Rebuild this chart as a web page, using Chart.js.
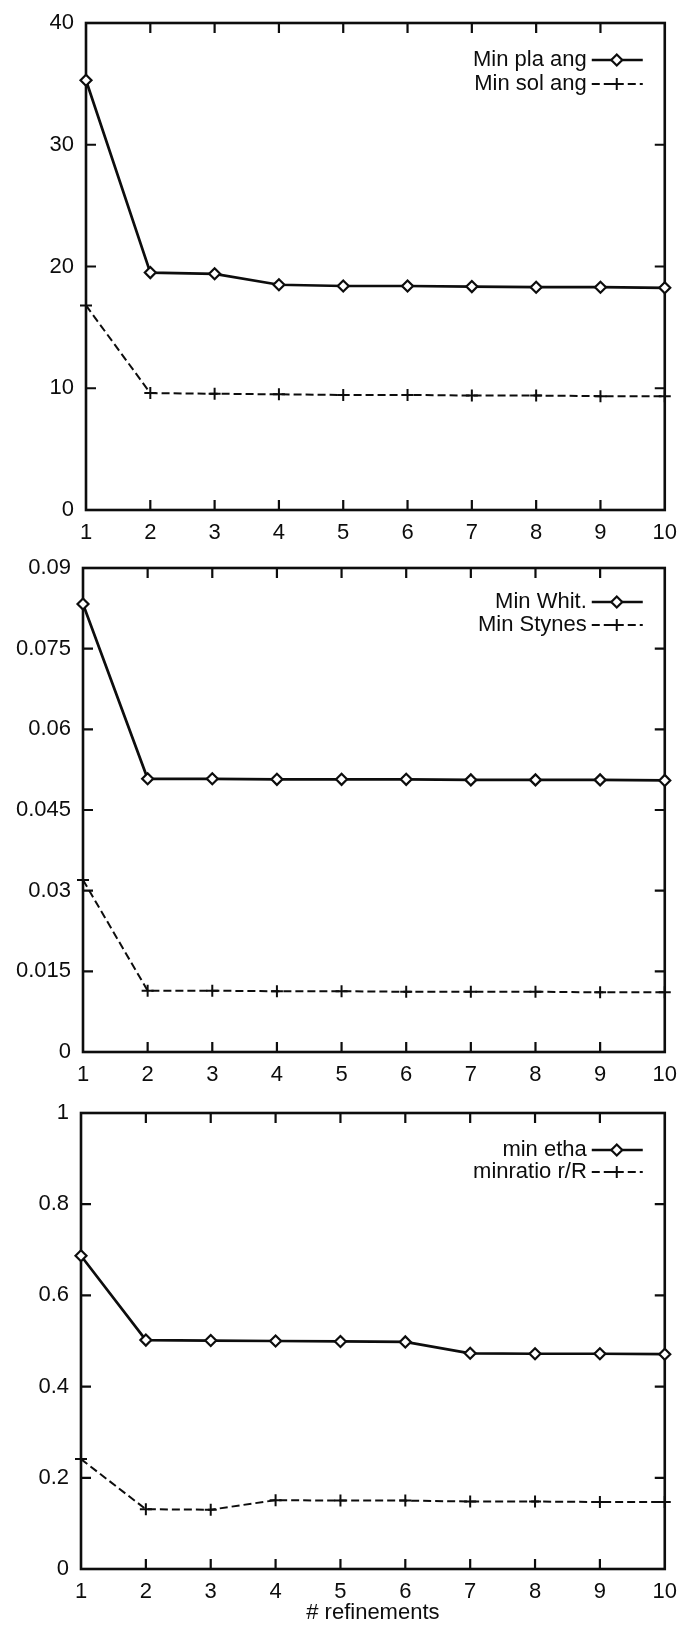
<!DOCTYPE html>
<html>
<head>
<meta charset="utf-8">
<script src="https://cdn.jsdelivr.net/npm/chart.js@4.4.1/dist/chart.umd.min.js"></script>
<style>
  html, body { margin: 0; padding: 0; background: #fff; }
  body { width: 689px; height: 1628px; position: relative; overflow: hidden; }
  canvas { position: absolute; left: 0; display: block; }
</style>
</head>
<body>
<canvas id="c1" width="689" height="545" style="top:0px;width:689px;height:545px"></canvas>
<canvas id="c2" width="689" height="545" style="top:545px;width:689px;height:545px"></canvas>
<canvas id="c3" width="689" height="538" style="top:1090px;width:689px;height:538px"></canvas>
<script>
// ---------- data ----------
const refinements = [1, 2, 3, 4, 5, 6, 7, 8, 9, 10];
const xTickLabels = ['1', '2', '3', '4', '5', '6', '7', '8', '9', '10'];
const xTitle = '# refinements';

const seriesNames1 = ['Min pla ang', 'Min sol ang'];
const minPlaAng = [35.3, 19.5, 19.4, 18.5, 18.4, 18.4, 18.35, 18.3, 18.3, 18.25];
const minSolAng = [16.8, 9.6, 9.55, 9.5, 9.45, 9.45, 9.4, 9.4, 9.35, 9.35];
const yTicks1 = [0, 10, 20, 30, 40];
const yLabels1 = ['0', '10', '20', '30', '40'];

const seriesNames2 = ['Min Whit.', 'Min Stynes'];
const minWhit = [0.0833, 0.0508, 0.0508, 0.0507, 0.0507, 0.0507, 0.0506, 0.0506, 0.0506, 0.0505];
const minStynes = [0.032, 0.0114, 0.0114, 0.0113, 0.0113, 0.0112, 0.0112, 0.0112, 0.0111, 0.0111];
const yTicks2 = [0, 0.015, 0.03, 0.045, 0.06, 0.075, 0.09];
const yLabels2 = ['0', '0.015', '0.03', '0.045', '0.06', '0.075', '0.09'];

const seriesNames3 = ['min etha', 'minratio r/R'];
const minEtha = [0.687, 0.502, 0.501, 0.5, 0.499, 0.498, 0.473, 0.472, 0.472, 0.471];
const minRatio = [0.241, 0.131, 0.13, 0.151, 0.15, 0.15, 0.148, 0.148, 0.147, 0.147];
const yTicks3 = [0, 0.2, 0.4, 0.6, 0.8, 1];
const yLabels3 = ['0', '0.2', '0.4', '0.6', '0.8', '1'];

// ---------- style ----------
const INK = '#0d0d0d';
const FONT_FAMILY = '"Liberation Sans", Arial, Helvetica, sans-serif';
Chart.defaults.font.family = FONT_FAMILY;
Chart.defaults.color = INK;

function drawMarker(ctx, style, x, y, r, bw) {
  ctx.save();
  ctx.setLineDash([]);
  ctx.lineWidth = bw;
  ctx.strokeStyle = INK;
  ctx.beginPath();
  if (style === 'rectRot') {
    ctx.moveTo(x - r, y); ctx.lineTo(x, y - r); ctx.lineTo(x + r, y); ctx.lineTo(x, y + r); ctx.closePath();
    ctx.fillStyle = '#fff'; ctx.fill();
  } else {
    ctx.moveTo(x - r, y); ctx.lineTo(x + r, y); ctx.moveTo(x, y - r); ctx.lineTo(x, y + r);
  }
  ctx.stroke();
  ctx.restore();
}

const gnuplotFrame = {
  id: 'gnuplotFrame',
  beforeDatasetsDraw(chart) {
    const { ctx, chartArea: a, scales: { x, y } } = chart;
    const L = 10;
    ctx.save();
    ctx.strokeStyle = INK;
    ctx.lineWidth = 2.6;
    ctx.strokeRect(a.left, a.top, a.right - a.left, a.bottom - a.top);
    ctx.lineWidth = 2.2;
    ctx.beginPath();
    x.ticks.forEach(t => {
      const px = x.getPixelForValue(t.value);
      if (px <= a.left + 1 || px >= a.right - 1) return;
      ctx.moveTo(px, a.bottom); ctx.lineTo(px, a.bottom - L);
      ctx.moveTo(px, a.top); ctx.lineTo(px, a.top + L);
    });
    y.ticks.forEach(t => {
      const py = y.getPixelForValue(t.value);
      if (py <= a.top + 1 || py >= a.bottom - 1) return;
      ctx.moveTo(a.left, py); ctx.lineTo(a.left + L, py);
      ctx.moveTo(a.right, py); ctx.lineTo(a.right - L, py);
    });
    ctx.stroke();
    ctx.restore();
  },
  afterDatasetsDraw(chart, args, opts) {
    const { ctx, chartArea: a } = chart;
    ctx.save();
    chart.data.datasets.forEach((ds, i) => {
      const cy = a.top + opts.top + i * opts.gap;
      ctx.font = '22px ' + FONT_FAMILY;
      ctx.fillStyle = INK;
      ctx.textAlign = 'right';
      ctx.textBaseline = 'middle';
      ctx.fillText(ds.label, a.right - 78, cy);
      ctx.strokeStyle = INK;
      ctx.lineWidth = ds.borderWidth;
      ctx.setLineDash(ds.borderDash || []);
      ctx.beginPath();
      ctx.moveTo(a.right - 73, cy);
      ctx.lineTo(a.right - 22, cy);
      ctx.stroke();
      ctx.setLineDash([]);
      drawMarker(ctx, ds.pointStyle, a.right - 48, cy, ds.pointRadius, ds.pointBorderWidth);
    });
    ctx.restore();
  }
};

function makePanel(id, cfg) {
  const tickFont = { size: 22, lineHeight: 1 };
  return new Chart(document.getElementById(id), {
    type: 'line',
    data: {
      datasets: [
        {
          label: cfg.names[0],
          data: refinements.map((r, i) => ({ x: r, y: cfg.s1[i] })),
          borderColor: INK, borderWidth: 2.7,
          pointStyle: 'rectRot', pointRadius: 5.5, pointBorderWidth: 2.2,
          pointBackgroundColor: '#fff', pointBorderColor: INK,
          fill: false, tension: 0, clip: false
        },
        {
          label: cfg.names[1],
          data: refinements.map((r, i) => ({ x: r, y: cfg.s2[i] })),
          borderColor: INK, borderWidth: 2, borderDash: [8, 4],
          pointStyle: 'cross', pointRadius: 6, pointBorderWidth: 2,
          pointBackgroundColor: INK, pointBorderColor: INK,
          fill: false, tension: 0, clip: false
        }
      ]
    },
    options: {
      responsive: false,
      animation: false,
      events: [],
      layout: { autoPadding: false, padding: { top: cfg.top, left: 0, right: cfg.right, bottom: 0 } },
      plugins: {
        legend: { display: false },
        tooltip: { enabled: false },
        gnuplotFrame: { top: cfg.legTop, gap: cfg.legGap }
      },
      scales: {
        x: {
          type: 'linear', min: 1, max: 10,
          afterBuildTicks: s => { s.ticks = refinements.map(v => ({ value: v })); },
          afterFit: s => { s.height = cfg.xh; },
          grid: { display: false, drawTicks: false },
          border: { display: false },
          ticks: {
            callback: (v, i) => xTickLabels[i],
            font: tickFont, color: INK, padding: cfg.xPad,
            maxRotation: 0, autoSkip: false
          },
          title: {
            display: !!cfg.showTitle, text: xTitle, color: INK,
            font: { size: 22, lineHeight: 1 }, padding: { top: 0, bottom: 4 }
          }
        },
        y: {
          type: 'linear', min: 0, max: cfg.ymax,
          afterBuildTicks: s => { s.ticks = cfg.yTicks.map(v => ({ value: v })); },
          afterFit: s => { s.width = cfg.left; },
          grid: { display: false, drawTicks: false },
          border: { display: false },
          ticks: {
            callback: (v, i) => cfg.yLabels[i],
            font: tickFont, color: INK, padding: 12, autoSkip: false
          }
        }
      }
    },
    plugins: [gnuplotFrame]
  });
}

makePanel('c1', {
  names: seriesNames1, s1: minPlaAng, s2: minSolAng,
  yTicks: yTicks1, yLabels: yLabels1, ymax: 40,
  top: 18, left: 86, right: 12, xh: 35, xPad: 12,
  legTop: 37, legGap: 24
});
makePanel('c2', {
  names: seriesNames2, s1: minWhit, s2: minStynes,
  yTicks: yTicks2, yLabels: yLabels2, ymax: 0.09,
  top: 13, left: 83, right: 15, xh: 38, xPad: 12,
  legTop: 34, legGap: 23
});
makePanel('c3', {
  names: seriesNames3, s1: minEtha, s2: minRatio,
  yTicks: yTicks3, yLabels: yLabels3, ymax: 1,
  top: 9, left: 81, right: 17, xh: 59, xPad: 12,
  legTop: 37, legGap: 22, showTitle: true
});
</script>
</body>
</html>
